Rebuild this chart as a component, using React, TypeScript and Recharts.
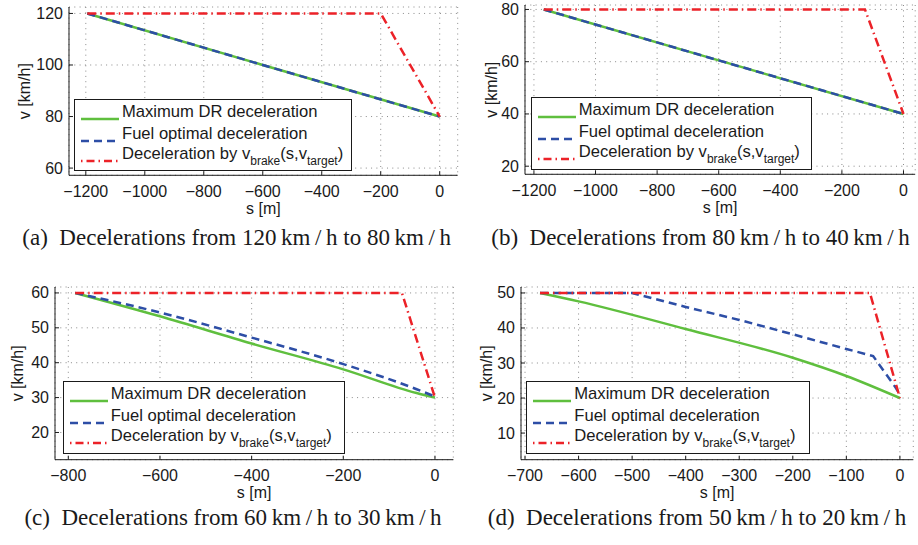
import React from 'react';
import { LineChart, Line, XAxis, YAxis, CartesianGrid, Legend, Label } from 'recharts';

// (a) 120 km/h -> 80 km/h
const sMaxDrA = [-1195, -600, 0];
const vMaxDrA = [120, 100, 80];
const sFuelA = [-1195, -600, 0];
const vFuelA = [120, 100, 80];
const sBrakeA = [-1195, -200, 0];
const vBrakeA = [120, 120, 80];
const xTicksA = [-1200, -1000, -800, -600, -400, -200, 0];
const yTicksA = [60, 80, 100, 120];

// (b) 80 km/h -> 40 km/h
const sMaxDrB = [-1168, -600, 0];
const vMaxDrB = [80, 60.5, 40];
const sFuelB = [-1168, -600, 0];
const vFuelB = [80, 60.5, 40];
const sBrakeB = [-1168, -125, 0];
const vBrakeB = [80, 80, 40];
const xTicksB = [-1200, -1000, -800, -600, -400, -200, 0];
const yTicksB = [20, 40, 60, 80];

// (c) 60 km/h -> 30 km/h
const sMaxDrC = [-785, -600, -400, -200, -40, 0];
const vMaxDrC = [60, 53.3, 45.5, 38.1, 31.3, 30];
const sFuelC = [-785, -600, -400, -200, -40, 0];
const vFuelC = [60, 54.4, 47.2, 39.6, 32.4, 30.3];
const sBrakeC = [-785, -72, 0];
const vBrakeC = [60, 60, 30];
const xTicksC = [-800, -600, -400, -200, 0];
const yTicksC = [20, 30, 40, 50, 60];

// (d) 50 km/h -> 20 km/h
const sMaxDrD = [-672, -600, -400, -200, -100, 0];
const vMaxDrD = [50, 47.6, 39.7, 31.5, 26.3, 20];
const sFuelD = [-672, -500, -400, -300, -200, -100, -50, -8, 0];
const vFuelD = [50, 50, 46, 42.3, 38.2, 34, 32, 23, 21];
const sBrakeD = [-672, -56, 0];
const vBrakeD = [50, 50, 20];
const xTicksD = [-700, -600, -500, -400, -300, -200, -100, 0];
const yTicksD = [10, 20, 30, 40, 50];

const captions = [
  '(a)\u2002Decelerations from 120\u2009km\u2009/\u2009h to 80\u2009km\u2009/\u2009h',
  '(b)\u2002Decelerations from 80\u2009km\u2009/\u2009h to 40\u2009km\u2009/\u2009h',
  '(c)\u2002Decelerations from 60\u2009km\u2009/\u2009h to 30\u2009km\u2009/\u2009h',
  '(d)\u2002Decelerations from 50\u2009km\u2009/\u2009h to 20\u2009km\u2009/\u2009h',
];

const zip = (s: number[], v: number[]) => s.map((x, i) => ({ s: x, v: v[i] }));

const SANS = "'Liberation Sans', Arial, Helvetica, sans-serif";
const SERIF = "'Liberation Serif', 'Times New Roman', Times, serif";
const GREEN = '#5fbf3e';
const BLUE = '#2d4ea6';
const RED = '#ec2228';
const INK = '#1a1a1a';
const FS = 16;

const Y_MARGIN = 6;
const X_MARGIN = 16;
const TICK_LEN = 4;
const fmt = (v: number) => (v < 0 ? '\u2212' + Math.abs(v) : String(v));

const YTick = (props: any) => {
  const { x, y, payload } = props;
  const ax = x + Y_MARGIN;
  return (
    <g>
      <line x1={ax} x2={ax + TICK_LEN} y1={y} y2={y} stroke={INK} strokeWidth={1} />
      <text x={x} y={y} textAnchor="end" dominantBaseline="central" fontFamily={SANS} fontSize={FS} fill={INK}>
        {fmt(payload.value)}
      </text>
    </g>
  );
};

const XTick = (props: any) => {
  const { x, y, payload } = props;
  const ay = y - X_MARGIN;
  return (
    <g>
      <line x1={x} x2={x} y1={ay} y2={ay - TICK_LEN} stroke={INK} strokeWidth={1} />
      <text x={x} y={y} textAnchor="middle" dominantBaseline="central" fontFamily={SANS} fontSize={FS} fill={INK}>
        {fmt(payload.value)}
      </text>
    </g>
  );
};

const Sample = ({ kind }: { kind: string }) => {
  const common = { x1: 0, x2: 38, y1: 4, y2: 4, strokeWidth: 2.5 };
  if (kind === 'maxDr') return <svg width={38} height={8}><line {...common} stroke={GREEN} /></svg>;
  if (kind === 'fuel') return <svg width={38} height={8}><line {...common} stroke={BLUE} strokeDasharray="8 5" /></svg>;
  return <svg width={38} height={8}><line {...common} stroke={RED} strokeDasharray="1.5 4 8 4" /></svg>;
};

const subStyle: React.CSSProperties = { fontSize: 12, verticalAlign: '-0.5em', lineHeight: 0 };

const LegendBox = ({ width, height }: { width: number; height: number }) => {
  const rows: [string, React.ReactNode, number][] = [
    ['maxDr', 'Maximum DR deceleration', 12.5],
    ['fuel', 'Fuel optimal deceleration', 34],
    [
      'brake',
      <span>
        Deceleration by v<span style={subStyle}>brake</span>(s,v<span style={subStyle}>target</span>)
      </span>,
      54.5,
    ],
  ];
  return (
    <div
      style={{
        position: 'relative',
        width,
        height,
        boxSizing: 'border-box',
        border: `1.3px solid ${INK}`,
        background: '#fff',
        fontFamily: SANS,
        fontSize: 16.6,
        color: INK,
      }}
    >
      {rows.map(([kind, text, cy]) => (
        <div key={kind} style={{ position: 'absolute', left: 0, top: cy - 11, height: 22, width: '100%' }}>
          <div style={{ position: 'absolute', left: 6, top: 7 }}>
            <Sample kind={kind} />
          </div>
          <div style={{ position: 'absolute', left: 47, top: 0, lineHeight: '22px', whiteSpace: 'nowrap' }}>{text}</div>
        </div>
      ))}
    </div>
  );
};

type Pt = { s: number; v: number };
type PanelProps = {
  px: number;
  py: number;
  pw: number;
  ph: number;
  xDomain: [number, number];
  yDomain: [number, number];
  xTicks: number[];
  yTicks: number[];
  maxDr: Pt[];
  fuel: Pt[];
  brake: Pt[];
  curve: 'linear' | 'monotone';
  fuelCurve: 'linear' | 'monotone';
  legend: { x: number; y: number; w: number; h: number };
  yLabelDist: number;
  caption: string;
  capX: number;
  capY: number;
};

const AXIS_W = 70;
const TOP = 10;
const RIGHT = 10;
const AXIS_H = 60;

const Panel = (p: PanelProps) => {
  const left = p.px - AXIS_W;
  const top = p.py - TOP;
  const width = p.pw + AXIS_W + RIGHT;
  const height = p.ph + TOP + AXIS_H;
  return (
    <>
      <div style={{ position: 'absolute', left, top, width, height }}>
        <LineChart width={width} height={height} margin={{ top: TOP, right: RIGHT, bottom: 0, left: 0 }}>
          <CartesianGrid stroke="#8a8a8a" strokeWidth={1} strokeDasharray="1 4.3" />
          <XAxis
            dataKey="s"
            type="number"
            domain={p.xDomain}
            ticks={p.xTicks}
            allowDataOverflow
            interval={0}
            height={AXIS_H}
            stroke={INK}
            tickSize={0}
            tickLine={false}
            tickMargin={X_MARGIN}
            tick={<XTick />}
          >
            <Label
              content={() => (
                <text
                  x={AXIS_W + p.pw / 2}
                  y={TOP + p.ph + 33}
                  textAnchor="middle"
                  dominantBaseline="central"
                  fontFamily={SANS}
                  fontSize={FS}
                  fill={INK}
                >
                  s [m]
                </text>
              )}
            />
          </XAxis>
          <YAxis
            type="number"
            domain={p.yDomain}
            ticks={p.yTicks}
            allowDataOverflow
            interval={0}
            width={AXIS_W}
            stroke={INK}
            tickSize={0}
            tickLine={false}
            tickMargin={Y_MARGIN}
            tick={<YTick />}
          >
            <Label
              content={() => {
                const cx = AXIS_W - p.yLabelDist;
                const cy = TOP + p.ph / 2;
                return (
                  <text
                    x={cx}
                    y={cy}
                    transform={`rotate(-90 ${cx} ${cy})`}
                    textAnchor="middle"
                    dominantBaseline="central"
                    fontFamily={SANS}
                    fontSize={FS}
                    fill={INK}
                  >
                    v [km/h]
                  </text>
                );
              }}
            />
          </YAxis>
          <Line data={p.maxDr} dataKey="v" type={p.curve} stroke={GREEN} strokeWidth={2.5} dot={false} isAnimationActive={false} />
          <Line
            data={p.fuel}
            dataKey="v"
            type={p.fuelCurve}
            stroke={BLUE}
            strokeWidth={2.5}
            strokeDasharray="8 5"
            dot={false}
            isAnimationActive={false}
          />
          <Line
            data={p.brake}
            dataKey="v"
            type="linear"
            stroke={RED}
            strokeWidth={2.5}
            strokeDasharray="9 4 1.5 4"
            dot={false}
            isAnimationActive={false}
          />
          <Legend
            layout="vertical"
            align="center"
            verticalAlign="middle"
            wrapperStyle={{ left: p.legend.x - left, top: p.legend.y - top, width: p.legend.w, height: p.legend.h }}
            content={() => <LegendBox width={p.legend.w} height={p.legend.h} />}
          />
        </LineChart>
      </div>
      <div
        style={{
          position: 'absolute',
          left: p.capX - 250,
          width: 500,
          top: p.capY - 15,
          height: 30,
          lineHeight: '30px',
          textAlign: 'center',
          fontFamily: SERIF,
          fontSize: 23,
          color: INK,
          whiteSpace: 'nowrap',
        }}
      >
        {p.caption}
      </div>
    </>
  );
};

export default function App() {
  return (
    <div style={{ position: 'absolute', left: 0, top: 0, width: 918, height: 545, background: '#fff', overflow: 'hidden' }}>
      <Panel
        px={69.3}
        py={7}
        pw={388.7}
        ph={168.3}
        xDomain={[-1257, 61]}
        yDomain={[57.2, 122.5]}
        xTicks={xTicksA}
        yTicks={yTicksA}
        maxDr={zip(sMaxDrA, vMaxDrA)}
        fuel={zip(sFuelA, vFuelA)}
        brake={zip(sBrakeA, vBrakeA)}
        curve="linear"
        fuelCurve="linear"
        legend={{ x: 74, y: 98.7, w: 278, h: 72 }}
        yLabelDist={44}
        caption={captions[0]}
        capX={236.7}
        capY={238.3}
      />
      <Panel
        px={524.5}
        py={5}
        pw={390.2}
        ph={169.3}
        xDomain={[-1229, 38]}
        yDomain={[16.9, 81.7]}
        xTicks={xTicksB}
        yTicks={yTicksB}
        maxDr={zip(sMaxDrB, vMaxDrB)}
        fuel={zip(sFuelB, vFuelB)}
        brake={zip(sBrakeB, vBrakeB)}
        curve="linear"
        fuelCurve="linear"
        legend={{ x: 530.7, y: 96.7, w: 281.3, h: 73.3 }}
        yLabelDist={33.3}
        caption={captions[1]}
        capX={700.5}
        capY={238.3}
      />
      <Panel
        px={55}
        py={287.3}
        pw={398.3}
        ph={172.7}
        xDomain={[-829, 40]}
        yDomain={[12.2, 61.7]}
        xTicks={xTicksC}
        yTicks={yTicksC}
        maxDr={zip(sMaxDrC, vMaxDrC)}
        fuel={zip(sFuelC, vFuelC)}
        brake={zip(sBrakeC, vBrakeC)}
        curve="monotone"
        fuelCurve="monotone"
        legend={{ x: 62.7, y: 381, w: 282.3, h: 73.3 }}
        yLabelDist={37.5}
        caption={captions[2]}
        capX={233}
        capY={518.3}
      />
      <Panel
        px={520.7}
        py={287.3}
        pw={392.3}
        ph={172.7}
        xDomain={[-707.5, 25]}
        yDomain={[2.4, 51.7]}
        xTicks={xTicksD}
        yTicks={yTicksD}
        maxDr={zip(sMaxDrD, vMaxDrD)}
        fuel={zip(sFuelD, vFuelD)}
        brake={zip(sBrakeD, vBrakeD)}
        curve="monotone"
        fuelCurve="linear"
        legend={{ x: 526.3, y: 381, w: 283.4, h: 73 }}
        yLabelDist={34.4}
        caption={captions[3]}
        capX={697}
        capY={518.3}
      />
    </div>
  );
}
